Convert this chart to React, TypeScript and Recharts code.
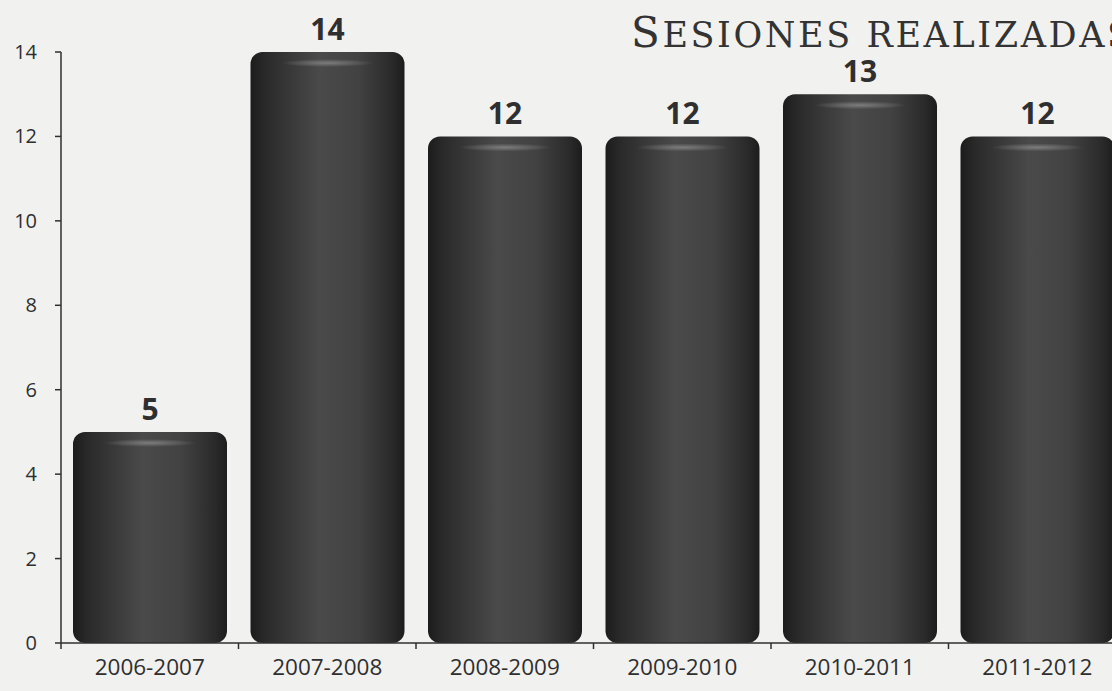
import { BarChart, Bar, XAxis, YAxis, LabelList } from 'recharts';

const seasons = ['2006-2007', '2007-2008', '2008-2009', '2009-2010', '2010-2011', '2011-2012'];
const sessions = [5, 14, 12, 12, 13, 12];
const yTicks = [0, 2, 4, 6, 8, 10, 12, 14];

const data = seasons.map((season, i) => ({ season, value: sessions[i] }));

const ink = '#2f2f2f';

// barra oscura con esquinas redondeadas y brillo en el centro
function RoundBar(props: any) {
  const { x, y, width, height, index } = props;
  if (!width || !height) return null;
  const r = 12;
  const gid = `barGrad${index}`;
  const hid = `barHi${index}`;
  return (
    <g>
      <defs>
        <linearGradient id={gid} x1="0" y1="0" x2="1" y2="0">
          <stop offset="0%" stopColor="#1c1c1c" />
          <stop offset="10%" stopColor="#2a2a2a" />
          <stop offset="45%" stopColor="#4a4a4a" />
          <stop offset="70%" stopColor="#424242" />
          <stop offset="92%" stopColor="#2a2a2a" />
          <stop offset="100%" stopColor="#1c1c1c" />
        </linearGradient>
        <radialGradient id={hid} cx="0.5" cy="0.5" r="0.5">
          <stop offset="0%" stopColor="#8a8a8a" stopOpacity={0.8} />
          <stop offset="100%" stopColor="#8a8a8a" stopOpacity={0} />
        </radialGradient>
      </defs>
      <rect x={x} y={y} width={width} height={height} rx={r} ry={r} fill={`url(#${gid})`} />
      <ellipse cx={x + width / 2} cy={y + 11} rx={width * 0.3} ry={4} fill={`url(#${hid})`} />
    </g>
  );
}

// etiqueta de categoría + marca en el borde izquierdo de cada categoría
function SeasonTick(props: any) {
  const { x, y, payload } = props;
  const half = payload.offset || 0;
  return (
    <g>
      <line x1={x - half} y1={y - 17} x2={x - half} y2={y - 11} stroke={ink} strokeWidth={1.5} />
      <text x={x} y={y + 15} textAnchor="middle" fill={ink} fontSize={22.5} fontFamily="Open Sans">
        {payload.value}
      </text>
    </g>
  );
}

function ValueTick(props: any) {
  const { x, y, payload } = props;
  return (
    <text x={x} y={y + 7} textAnchor="end" fill={ink} fontSize={20} fontFamily="Open Sans">
      {payload.value}
    </text>
  );
}

export default function App() {
  return (
    <div
      style={{
        position: 'absolute',
        left: 0,
        top: 0,
        width: 1112,
        height: 691,
        overflow: 'hidden',
        background: '#f1f1ef',
      }}
    >
      <svg width={1112} height={60} style={{ position: 'absolute', left: 0, top: 0 }}>
        <text x={631} y={47} fill="#333" fontFamily="DejaVu Serif" letterSpacing={2.6}>
          <tspan fontSize={42}>S</tspan>
          <tspan fontSize={35}>ESIONES REALIZADAS</tspan>
        </text>
      </svg>
      <BarChart
        width={1126}
        height={691}
        data={data}
        margin={{ top: 52, right: 0, left: 0, bottom: 0 }}
        style={{ position: 'absolute', left: 0, top: 0 }}
      >
        <YAxis
          domain={[0, 14]}
          ticks={yTicks}
          width={61}
          stroke={ink}
          strokeWidth={1.5}
          tickSize={6}
          tickMargin={18}
          tick={<ValueTick />}
        />
        <XAxis
          dataKey="season"
          height={48}
          stroke={ink}
          strokeWidth={1.5}
          tickLine={false}
          tickSize={6}
          tickMargin={11}
          tick={<SeasonTick />}
        />
        <Bar dataKey="value" barSize={154} shape={<RoundBar />} isAnimationActive={false}>
          <LabelList
            dataKey="value"
            position="top"
            offset={12}
            fill={ink}
            fontSize={30}
            fontWeight={700}
            fontFamily="Open Sans"
          />
        </Bar>
      </BarChart>
    </div>
  );
}
